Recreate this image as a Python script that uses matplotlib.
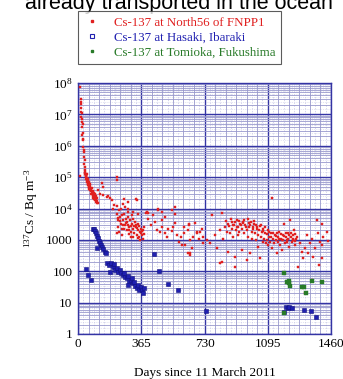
import matplotlib
matplotlib.use('Agg')
from matplotlib import pyplot as plt
from matplotlib.ticker import FixedLocator, NullFormatter
import numpy as np

plt.rcParams['font.family'] = ['Liberation Serif', 'DejaVu Serif']
plt.rcParams['mathtext.fontset'] = 'custom'
plt.rcParams['mathtext.rm'] = 'Liberation Serif'
plt.rcParams['mathtext.it'] = 'Liberation Serif:italic'

# Cs-137 at North56 of FNPP1 (days since 11 March 2011, Bq/m3)
red_days = [14, 16, 18, 15, 20, 17, 22, 19, 24, 21, 26, 23, 27, 25, 29, 31, 30, 33, 35, 36, 38,
            37, 40, 41, 43, 45, 47, 38, 49, 12,
            42, 45, 46, 48, 50, 50, 52, 53, 55, 56, 58, 60, 60, 62, 63, 65, 66, 68, 70, 70, 72,
            74, 75, 77, 78, 80, 82, 84, 85, 87, 88, 90, 92, 93, 95, 97, 98, 100, 102, 104, 105,
            108, 110, 112, 115,
            117, 127, 137, 142, 146, 165, 175, 185, 194, 204, 210, 223, 223, 227, 262, 291, 343,
            223, 229, 233, 237, 242, 248, 252, 256, 262, 265, 271, 275, 281, 285, 290, 294, 300,
            304, 310, 313, 319, 325, 329, 335, 338, 344, 348, 354, 358, 364, 367, 373, 377, 383,
            248, 271, 290, 267, 335, 227, 252, 238, 286, 319, 306, 348,
            232, 245, 258, 268, 278, 288, 297, 308, 316, 322, 332, 341, 352, 361, 370, 380, 296,
            315, 360, 345,
            397, 406, 422, 445, 455, 474, 487, 503, 522, 541, 551, 561, 570, 580, 595, 609, 618,
            634, 647, 657, 666, 686, 699, 715, 724, 638, 561, 483, 430, 512, 609, 676, 647, 393,
            405, 464, 483, 502, 541, 643, 637, 648, 598, 560, 463,
            685, 704, 723, 742, 762, 771, 790, 800, 819, 829, 829, 838, 848, 858, 867, 867, 877,
            886, 890, 896, 902, 906, 910, 915, 921, 925, 931, 935, 944, 944, 954, 960, 963, 973,
            979, 983, 988, 992, 998, 1002, 1006, 1012, 1017, 1021, 1027, 1031, 1037, 1040, 1044,
            1050, 1056, 1060, 1065, 1069, 1075, 1079, 1085, 1088, 1094, 1098, 1102, 1108, 1113,
            1117, 1121, 1127, 1133, 1136, 1142, 1146, 1152, 1156, 1162, 1165, 1171, 1175, 1181,
            1185, 1190, 1194, 1200, 1204, 1210, 1213, 1219, 1223, 1229, 1233, 1238, 1242, 1248,
            1252, 1258, 1261, 1271, 1281, 1290, 1300, 1310, 1319, 1329, 1338, 1348, 1358, 1367,
            1377, 1386, 1390, 1396, 1406, 1410, 1415,
            1435, 1445, 1406, 1310, 1350, 820, 907, 973,
            855, 872, 882, 893, 905, 918, 928, 940, 950, 958, 968, 985, 995, 1008, 1015, 1025,
            1035, 1048, 1058, 1070, 1082, 1090, 1105, 1115, 1125, 1140, 1150, 1160, 1170, 1180,
            1190, 1198, 1208, 1216, 1228, 1240, 1250, 1255]
red_vals = [7.2e7, 3.2e7, 2.5e7, 2.1e7, 1.55e7, 1.2e7, 1.07e7, 8.3e6, 6.9e6, 5.8e6, 5.1e6, 4.0e6,
            2.5e6, 2.2e6, 1.7e6, 1.5e6, 9.1e5, 7.2e5, 6.5e5, 4.5e5, 3.5e5,
            2.7e5, 2.1e5, 1.7e5, 1.5e5, 1.15e5, 1.0e5, 1.3e5, 1.2e5, 1.1e5,
            1.4e5, 1.2e5, 9e4, 1.05e5, 8e4, 1.3e5, 7e4, 9.5e4, 6e4, 8.5e4, 7.5e4, 5.5e4, 6.5e4,
            4.8e4, 7e4, 5e4, 4.2e4, 6e4, 3.8e4, 4.5e4, 5.2e4, 3.5e4, 4e4, 3e4, 4.6e4, 3.3e4,
            2.8e4, 3.6e4, 2.5e4, 3e4, 2.2e4, 2.7e4, 2e4, 3.2e4, 2.4e4, 1.8e4, 2.8e4, 2.1e4,
            1.6e4, 2.5e4, 1.9e4, 1.5e4, 2.2e4, 1.7e4, 1.5e4,
            3.9e4, 3.0e4, 6.3e4, 4.9e4, 2.7e4, 2.3e4, 2.5e4, 2.1e4, 1.9e4, 1.0e4, 1.3e4, 1.0e5,
            7.9e4, 1.23e4, 1.38e4, 1.6e4, 1.9e4,
            6900, 4300, 2600, 1800, 5500, 3300, 6200, 2300, 4300, 6900, 3000, 4800, 2000, 3800,
            5500, 2600, 4300, 1800, 3300, 6200, 2300, 1600, 3800, 2600, 1400, 2000, 3300, 1260,
            1800, 2300, 1400, 1100, 2000, 2600,
            10000, 11000, 10000, 19500, 20000, 1600, 1400, 8900, 7900, 7900, 1260, 6900,
            5000, 4000, 2900, 2200, 3500, 2900, 2100, 2800, 4500, 2700, 3000, 2400, 2800, 1600,
            1900, 1500, 1500, 1200, 1000, 1150,
            7900, 4800, 2950, 3800, 2050, 1800, 2600, 1600, 2150, 1950, 2600, 6900, 1400, 870,
            1250, 1600, 680, 2000, 370, 540, 1250, 1800, 1050, 2300, 780, 2950, 3400, 4300, 6300,
            1250, 2600, 3400, 1000, 7100, 7100, 10000, 7900, 5500, 8900, 3100, 370, 320, 680,
            11200, 8900,
            1600, 1800, 1260, 980, 780, 6200, 1400, 540, 2000, 7200, 200, 1100, 2600, 1800, 3300,
            420, 1600, 2300, 3800, 1260, 2950, 290, 2000, 4300, 1400, 2600, 1800, 3300, 2300, 470,
            3800, 1600, 2950, 2000, 4800, 1260, 2600, 370, 3800, 1800, 1100, 2300, 3300, 1600,
            980, 2600, 600, 1400, 2000, 260, 1260, 1800, 870, 2300, 1100, 1600, 780, 980, 2000,
            680, 1260, 870, 1600, 21000, 540, 1100, 780, 1400, 980, 370, 1260, 870, 1800, 680,
            1100, 470, 1400, 980, 3300, 780, 1260, 870, 1600, 1100, 600, 4300, 1260, 870, 1400,
            980, 2000, 680, 1100, 1260, 138, 780, 420, 260, 540, 1400, 370, 780, 1100, 290, 540,
            4300, 1600, 160, 870, 3300, 680, 1260,
            1800, 900, 260, 20, 52, 178, 138, 230,
            4000, 2800, 4500, 3000, 3600, 2500, 4000, 2900, 3400, 4200, 2600, 3500, 2900, 2600,
            4000, 3000, 2200, 2700, 3000, 1900, 2500, 1500, 1800, 1200, 1700, 1300, 1600, 1100,
            1500, 1000, 1300, 1700, 1000, 1400, 1600, 1100, 1500, 900]

# Cs-137 at Hasaki, Ibaraki
blue_days = [46, 60, 73, 88, 90, 98, 104, 112, 117, 123, 127, 133, 138, 146, 154, 162, 108,
             169, 181, 189, 200, 208, 214, 185, 223, 233, 242, 248, 258, 265, 271, 281, 290, 296,
             306, 316, 323, 329, 339, 348, 354, 362, 368, 377, 383, 290, 310,
             441, 470, 522, 576, 740, 1187, 1200, 1210, 1220, 1233, 1303, 1347, 1376]
blue_vals = [115, 76, 52, 2300, 2200, 1950, 1600, 1330, 1120, 940, 810, 680, 575, 500, 420, 370,
             540, 178, 158, 186, 138, 170, 110, 96, 123, 96, 110, 85, 76, 90, 66, 59, 71, 47, 53,
             41, 47, 34, 29, 36, 25, 32, 26, 20, 29, 36, 59,
             345, 105, 39, 25, 5.5, 5.1, 7.0, 6.5, 7.2, 6.8, 5.8, 5.5, 3.4]

# Cs-137 at Tomioka, Fukushima
green_days = [1187, 1205, 1215, 1220, 1225, 1290, 1305, 1318, 1351, 1410, 1187]
green_vals = [90, 47, 48, 41, 35, 32, 32, 21, 50, 45, 4.8]

labels = ['Cs-137 at North56 of FNPP1', 'Cs-137 at Hasaki, Ibaraki', 'Cs-137 at Tomioka, Fukushima']
xticks = [0, 365, 730, 1095, 1460]
ytick_labels = ['1', '10', '100', '1000', '$10^4$', '$10^5$', '$10^6$', '$10^7$', '$10^8$']

c_red = '#e02020'
c_blue = '#2020b0'
c_green = '#287a28'
c_major = '#3434a4'
c_minor = '#9898cc'

fig = plt.figure(figsize=(3.43, 3.79), dpi=100)
ax = fig.add_axes([78 / 343, 45 / 379, 253 / 343, 251 / 379])

# graph-paper grid
ax.set_yscale('log')
ax.set_xlim(0, 1460)
ax.set_ylim(1, 1e8)
ax.xaxis.set_major_locator(FixedLocator(xticks))
ax.xaxis.set_minor_locator(FixedLocator(np.arange(0, 1461, 365 / 6)))
ax.yaxis.set_major_locator(FixedLocator([10.0 ** k for k in range(9)]))
ax.yaxis.set_minor_locator(FixedLocator([m * 10.0 ** k for k in range(8) for m in range(2, 10)]))
ax.yaxis.set_minor_formatter(NullFormatter())
for xx in np.arange(365 / 12, 1460, 365 / 6):
    ax.axvline(xx, color='#c4c4e6', lw=0.5, ls=(0, (2, 2)), zorder=0)
for k in range(8):
    for m in np.arange(1.5, 10, 1.0):
        ax.axhline(m * 10.0 ** k, color='#d0d0ea', lw=0.4, ls=(0, (2, 2)), zorder=0)
ax.grid(which='minor', color=c_minor, lw=0.6, zorder=0)
ax.grid(which='major', color=c_major, lw=1.0, zorder=0)
ax.set_axisbelow(True)
for s in ax.spines.values():
    s.set_color(c_major)
    s.set_linewidth(1.0)

ax.plot(red_days, red_vals, ls='none', marker='s', ms=1.9, mfc=c_red, mec=c_red, mew=0.3, zorder=3)
ax.plot(blue_days, blue_vals, ls='none', marker='s', ms=2.3, mfc=c_blue, mec='#101080', mew=0.4, zorder=3)
ax.plot(green_days, green_vals, ls='none', marker='s', ms=2.3, mfc=c_green, mec=c_green, mew=0.3, zorder=3)

ax.set_yticklabels(ytick_labels)
ax.set_xticklabels([str(t) for t in xticks])
ax.tick_params(which='both', length=0, labelsize=9.5, colors='black')
ax.tick_params(axis='x', pad=3)
ax.tick_params(axis='y', pad=4)

ax.set_xlabel('Days since 11 March 2011', fontsize=9.5, labelpad=12)
ax.set_ylabel('$^{137}$Cs / Bq m$^{-3}$', fontsize=9.5, labelpad=4)

# legend in its own box above the axes
h1, = ax.plot([], [], ls='none', marker='s', ms=1.6, color=c_red)
h2, = ax.plot([], [], ls='none', marker='s', ms=2.6, mfc='white', mec=c_blue, mew=0.8)
h3, = ax.plot([], [], ls='none', marker='s', ms=1.6, color=c_green)
leg = fig.legend([h1, h2, h3], labels, loc='upper left', bbox_to_anchor=(78 / 343, 1 - 11 / 379),
                 fontsize=9.3, frameon=True, fancybox=False, edgecolor='#333333',
                 labelcolor=[c_red, c_blue, c_green], handlelength=1.3, handletextpad=1.0,
                 borderpad=0.45, borderaxespad=0, labelspacing=0.22)
leg.get_frame().set_linewidth(0.8)

# cut-off caption at the very top of the slide
fig.text(333 / 343, 1 - 9 / 379, 'already transported in the ocean', ha='right', va='baseline',
         fontsize=15.5, family=['Liberation Sans', 'DejaVu Sans'])

fig.savefig('out.png', dpi=100)
